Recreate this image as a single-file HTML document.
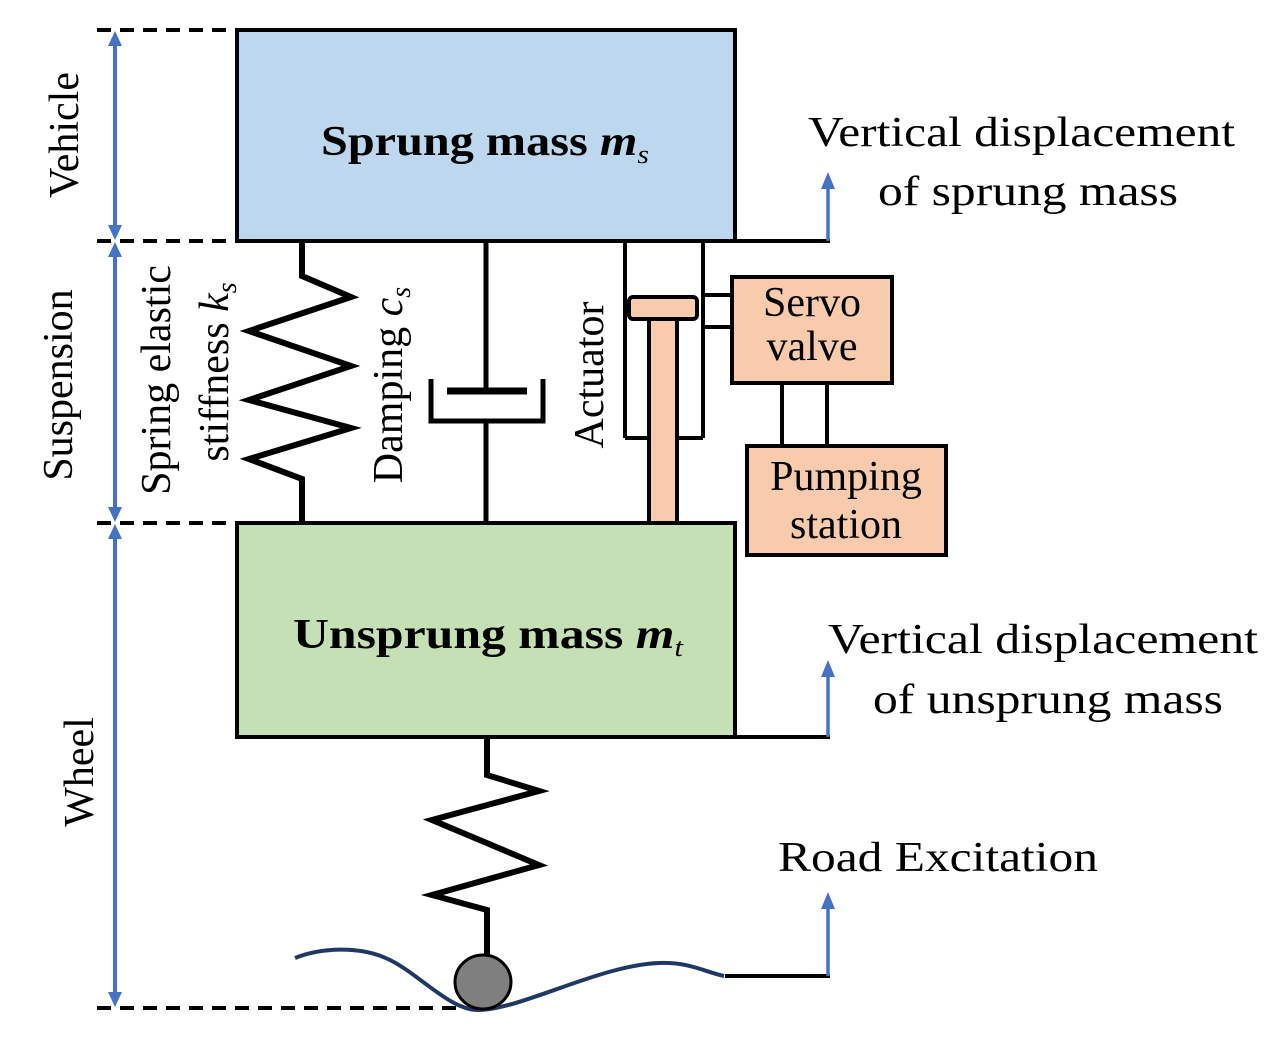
<!DOCTYPE html>
<html><head><meta charset="utf-8"><style>html,body{margin:0;padding:0;background:#fff}svg{display:block}text{font-family:"Liberation Serif","Times New Roman",Times,"Nimbus Roman",serif}</style></head>
<body>
<svg width="1277" height="1044" viewBox="0 0 1277 1044" xmlns="http://www.w3.org/2000/svg">
<g stroke="#000" stroke-width="4" stroke-dasharray="14,9">
<line x1="97" y1="30" x2="237" y2="30"/>
<line x1="97" y1="241" x2="237" y2="241"/>
<line x1="97" y1="523" x2="237" y2="523"/>
<line x1="97" y1="1008" x2="460" y2="1008"/>
</g>
<g stroke="#4472c4" stroke-width="4">
<line x1="115" y1="40" x2="115" y2="231"/>
<line x1="115" y1="251" x2="115" y2="513"/>
<line x1="115" y1="533" x2="115" y2="998"/>
</g>
<g fill="#4472c4">
<polygon points="115,31 108,46 122,46"/><polygon points="115,240 108,225 122,225"/>
<polygon points="115,242 108,257 122,257"/><polygon points="115,522 108,507 122,507"/>
<polygon points="115,524 108,539 122,539"/><polygon points="115,1007 108,992 122,992"/>
</g>
<g font-size="42" fill="#000">
<text transform="translate(78,135) rotate(-90)" text-anchor="middle">Vehicle</text>
<text transform="translate(72,385) rotate(-90)" text-anchor="middle">Suspension</text>
<text transform="translate(93,772) rotate(-90)" text-anchor="middle">Wheel</text>
<text transform="translate(170,380) rotate(-90)" text-anchor="middle">Spring elastic</text>
<text transform="translate(228,372) rotate(-90)" text-anchor="middle">stiffness <tspan font-style="italic">k</tspan><tspan font-style="italic" font-size="28" dy="8">s</tspan></text>
<text transform="translate(402,385) rotate(-90)" text-anchor="middle">Damping <tspan font-style="italic">c</tspan><tspan font-style="italic" font-size="28" dy="8">s</tspan></text>
<text transform="translate(603,375) rotate(-90)" text-anchor="middle">Actuator</text>
</g>
<rect x="237" y="30" width="498" height="211" fill="#bdd7ee" stroke="#000" stroke-width="4"/>
<rect x="237" y="523" width="498" height="214" fill="#c5e0b4" stroke="#000" stroke-width="4"/>
<text x="485" y="155" text-anchor="middle" font-size="42" font-weight="bold" textLength="328" lengthAdjust="spacingAndGlyphs">Sprung mass <tspan font-style="italic">m</tspan><tspan font-style="italic" font-weight="normal" font-size="26" dy="8">s</tspan></text>
<text x="488" y="648" text-anchor="middle" font-size="42" font-weight="bold" textLength="390" lengthAdjust="spacingAndGlyphs">Unsprung mass <tspan font-style="italic">m</tspan><tspan font-style="italic" font-weight="normal" font-size="26" dy="8">t</tspan></text>
<polyline points="302,241 302,276 351,297 249,331 351,366 249,400 351,428 249,459 302,479 302,523" fill="none" stroke="#000" stroke-width="6"/>
<g stroke="#000" stroke-width="5" fill="none">
<line x1="486" y1="241" x2="486" y2="391"/>
<line x1="447" y1="391" x2="527" y2="391" stroke-width="7"/>
<polyline points="431,379 431,421 543,421 543,379"/>
<line x1="486" y1="421" x2="486" y2="523"/>
</g>
<g stroke="#000" stroke-width="4" fill="none">
<line x1="625" y1="241" x2="625" y2="438"/>
<line x1="703" y1="241" x2="703" y2="438"/>
<line x1="625" y1="438" x2="648" y2="438"/>
<line x1="678" y1="438" x2="703" y2="438"/>
<line x1="703" y1="295" x2="732" y2="295"/>
<line x1="703" y1="327" x2="732" y2="327"/>
<line x1="782" y1="383" x2="782" y2="446"/>
<line x1="827" y1="383" x2="827" y2="446"/>
</g>
<rect x="649" y="319" width="28" height="204" fill="#f8cbad" stroke="#000" stroke-width="4"/>
<rect x="629" y="297" width="68" height="22" rx="4" fill="#f8cbad" stroke="#000" stroke-width="4"/>
<rect x="732" y="277" width="160" height="106" fill="#f8cbad" stroke="#000" stroke-width="4"/>
<rect x="747" y="446" width="199" height="109" fill="#f8cbad" stroke="#000" stroke-width="4"/>
<g font-size="42" text-anchor="middle">
<text x="812" y="316">Servo</text>
<text x="812" y="360">valve</text>
<text x="846" y="490">Pumping</text>
<text x="846" y="538">station</text>
</g>
<g stroke="#000" stroke-width="4">
<line x1="735" y1="241" x2="830" y2="241"/>
<line x1="735" y1="737" x2="830" y2="737"/>
<line x1="725" y1="976" x2="830" y2="976"/>
</g>
<g stroke="#4472c4" stroke-width="3.5">
<line x1="828" y1="241" x2="828" y2="186"/>
<line x1="828" y1="737" x2="828" y2="674"/>
<line x1="828" y1="976" x2="828" y2="906"/>
</g>
<g fill="#4472c4">
<polygon points="828,172 821,189 835,189"/>
<polygon points="828,660 821,677 835,677"/>
<polygon points="828,892 821,909 835,909"/>
</g>
<g font-size="42">
<text x="808" y="146" textLength="427" lengthAdjust="spacingAndGlyphs">Vertical displacement</text>
<text x="878" y="205" textLength="300" lengthAdjust="spacingAndGlyphs">of sprung mass</text>
<text x="828" y="653" textLength="430" lengthAdjust="spacingAndGlyphs">Vertical displacement</text>
<text x="873" y="713" textLength="350" lengthAdjust="spacingAndGlyphs">of unsprung mass</text>
<text x="778" y="871" textLength="320" lengthAdjust="spacingAndGlyphs">Road Excitation</text>
</g>
<polyline points="487,737 487,775 539,791 432,820 539,865 432,895 487,910 487,955" fill="none" stroke="#000" stroke-width="6"/>
<path d="M295,958 C320,948 360,945 390,960 C420,975 450,1010 478,1010 C520,1010 600,965 659,963 C690,962 705,972 724,976" fill="none" stroke="#1f3864" stroke-width="4"/>
<ellipse cx="483" cy="982" rx="28" ry="27" fill="#7f7f7f" stroke="#000" stroke-width="3"/>
</svg>
</body></html>
